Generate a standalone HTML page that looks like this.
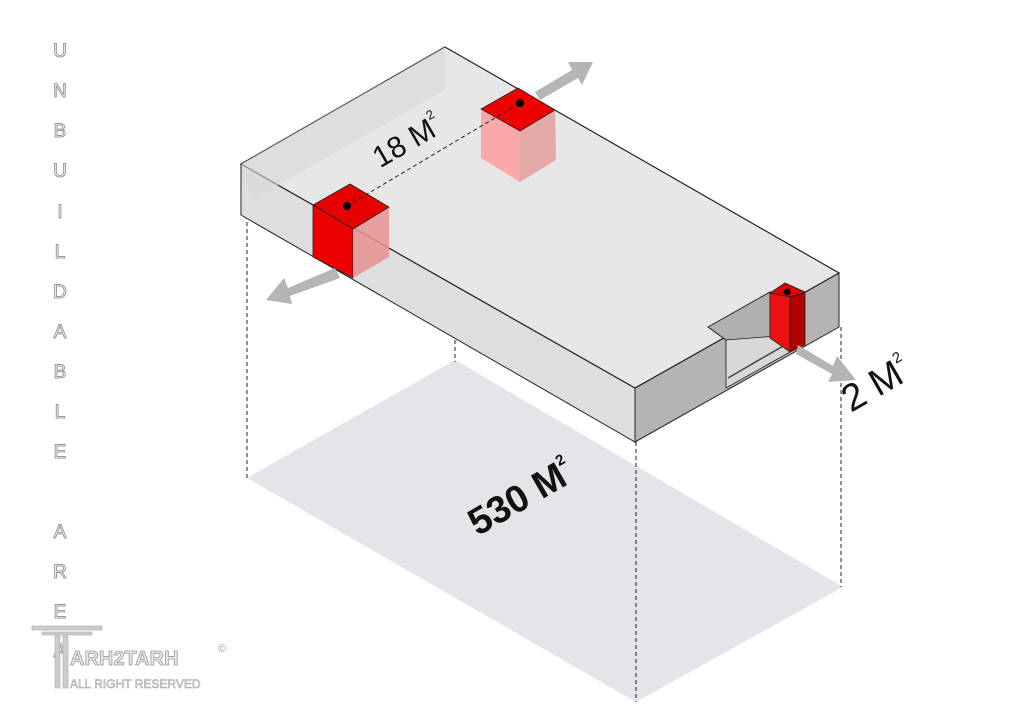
<!DOCTYPE html>
<html><head><style>
html,body{margin:0;padding:0;background:#fff;}
svg{display:block;font-family:"Liberation Sans",sans-serif;}
</style></head><body>
<svg width="1029" height="720" viewBox="0 0 1029 720" xmlns="http://www.w3.org/2000/svg">
<g fill="#fff" stroke="#9a9a9a" stroke-width="1" font-size="19" text-anchor="middle">
<text x="60" y="57">U</text><text x="60" y="97">N</text><text x="60" y="137">B</text><text x="60" y="177">U</text>
<text x="60" y="218">I</text><text x="60" y="258">L</text><text x="60" y="298">D</text><text x="60" y="338">A</text>
<text x="60" y="378">B</text><text x="60" y="418">L</text><text x="60" y="458">E</text>
<text x="60" y="538">A</text><text x="60" y="578">R</text><text x="60" y="618">E</text><text x="60" y="657">A</text>
</g>
<polygon points="455,360 843,587 636,702 247,478" fill="#e4e4e9"/>
<g stroke="#222" stroke-width="1" stroke-dasharray="4,3">
<line x1="247" y1="215" x2="247" y2="478"/>
<line x1="455" y1="340" x2="455" y2="362"/>
<line x1="636" y1="442" x2="636" y2="702"/>
<line x1="841" y1="327" x2="841" y2="587"/>
</g>
<polygon points="241,164 635,388 635,442 241,215" fill="#dedede" stroke="#222" stroke-width="1"/>
<polygon points="635,388 839,273 839,327 635,442" fill="#b4b4b4" stroke="#222" stroke-width="1"/>
<polygon points="445,47 839,273 635,388 241,164" fill="#e7e7e7" stroke="#222" stroke-width="1.2"/>
<polygon points="445,47 445,90 252,200 241,164" fill="#d9d9d9" opacity="0.6"/>
<polygon points="708,327 770,292 770,345 726,370 726,340" fill="#b0b0b0" stroke="#222" stroke-width="1"/>
<polygon points="726,340 726,388 790,352 790,335" fill="#d8d8d8" stroke="#222" stroke-width="0.8"/>
<line x1="728" y1="378" x2="790" y2="342" stroke="#444" stroke-width="1.5"/>
<polygon points="770,293 790,297 790,352 770,338" fill="#ee1111" stroke="#222" stroke-width="0.8"/>
<polygon points="790,297 805,292 805,345 790,352" fill="#b00000" stroke="#222" stroke-width="0.8"/>
<polygon points="770,293 785,283 805,292 790,297" fill="#e30000" stroke="#222" stroke-width="0.8"/>
<circle cx="787" cy="292" r="3.5" fill="#000"/>
<polygon points="481,109 520,131 520,182 481,158" fill="#ff9999" opacity="0.8"/>
<polygon points="520,131 555,110 556,160 520,182" fill="#e49a9a" opacity="0.8"/>
<polygon points="518,88 555,110 520,131 481,109" fill="#ee0000" stroke="#222" stroke-width="0.8"/>
<polygon points="313,205 353,229 353,278 313,257" fill="#ee0000" stroke="#222" stroke-width="0.8"/>
<polygon points="353,229 389,207 389,257 353,278" fill="#e59090" opacity="0.85"/>
<polygon points="350,184 389,207 353,229 313,205" fill="#e60000" stroke="#222" stroke-width="0.8"/>
<line x1="347" y1="206" x2="520" y2="103" stroke="#222" stroke-dasharray="4,3"/>
<circle cx="347" cy="206" r="4" fill="#000"/>
<circle cx="520" cy="103" r="4" fill="#000"/>
<g fill="#b5b5b5">
<polygon points="335,268 288,288 284,278 266,300 292,304 290,296 340,278"/>
<polygon points="535,92 572,70 568,62 593,62 582,85 578,78 540,100"/>
<polygon points="798,345 833,366 837,356 856,380 828,382 832,374 796,354"/>
</g>
<text transform="translate(412,150) rotate(-30)" font-size="30" fill="#111" text-anchor="middle">18 M<tspan font-size="13" dy="-17">2</tspan></text>
<text transform="translate(882,395) rotate(-30)" font-size="38" fill="#111" text-anchor="middle">2 M<tspan font-size="15" dy="-20">2</tspan></text>
<text transform="translate(527,508) rotate(-30)" font-size="38" font-weight="bold" fill="#111" text-anchor="middle">530 M<tspan font-size="15" dy="-20">2</tspan></text>
<g fill="#ccc" stroke="#aaa" stroke-width="0.6">
<rect x="32" y="626" width="70" height="4"/>
<rect x="42" y="632" width="50" height="3"/>
<rect x="55" y="636" width="5" height="52"/>
<rect x="63" y="636" width="5" height="52"/>
</g>
<text x="70" y="665" font-size="20" fill="#e8e8e8" stroke="#999" stroke-width="0.8" font-weight="bold">ARH2TARH</text>
<text x="70" y="688" font-size="12" fill="#e8e8e8" stroke="#999" stroke-width="0.5">ALL RIGHT RESERVED</text>
<text x="218" y="652" font-size="11" fill="#999">©</text>
</svg>
</body></html>
